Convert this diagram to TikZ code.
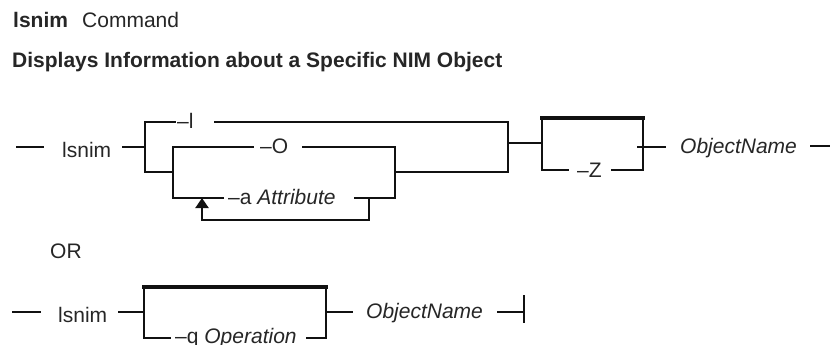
\documentclass[tikz,border=0pt]{standalone}
\usepackage{fontspec}
\setmainfont{Liberation Sans}
\usetikzlibrary{arrows.meta}
\definecolor{ink}{HTML}{111111}
\definecolor{txt}{HTML}{262626}
\begin{document}
\begin{tikzpicture}[x=1pt,y=-1pt,
  rail/.style={draw=ink,line width=2pt,line cap=rect,line join=miter},
  thickrail/.style={draw=ink,line width=4pt,line cap=rect},
  lbl/.style={inner sep=0pt,anchor=base west,text=txt,font=\fontsize{21}{25}\selectfont},
  ttl/.style={inner sep=0pt,anchor=base west,text=txt,font=\fontsize{21}{25}\selectfont\bfseries}]
\useasboundingbox[fill=white] (0,0) rectangle (830,345);

% titles
\node[ttl] (t1) at (13,28) {lsnim};
\node[lbl] (t1b) at (82,28) {Command};
\node[ttl] (t2) at (12,67) {Displays Information about a Specific NIM Object};

% ---------- row 1 ----------
\coordinate (a0) at (17,147);  \coordinate (a1) at (43,147);
\node[lbl] (ls1) at (62,157) {lsnim};
\coordinate (a2) at (123,147); \coordinate (J1) at (145,147);
\coordinate (J1t) at (145,122); \coordinate (J1b) at (145,172);
\node[lbl] (optl) at (177,128) {–l};
\coordinate (lA) at (175,122); \coordinate (lB) at (215,122);
\coordinate (R1t) at (508,122); \coordinate (R1b) at (508,172);
\coordinate (B1) at (173,172); \coordinate (B1t) at (173,147); \coordinate (B1b) at (173,198);
\node[lbl] (optO) at (260,153) {–O};
\coordinate (oA) at (253,147); \coordinate (oB) at (303,147);
\coordinate (B2t) at (395,147); \coordinate (B2m) at (395,172); \coordinate (B2b) at (395,198);
\node[lbl] (opta) at (228,204) {–a \textit{Attribute}};
\coordinate (aA) at (223,198); \coordinate (aB) at (355,198);
\coordinate (Lp1) at (369,198); \coordinate (Lp2) at (369,220);
\coordinate (Lp3) at (202,220); \coordinate (Lp4) at (202,198);
\coordinate (R1m) at (508,143); \coordinate (Zl) at (542,143);
\coordinate (Ztl) at (542,118); \coordinate (Ztr) at (643,118);
\coordinate (Zbl) at (542,170); \coordinate (Zbr) at (643,170);
\node[lbl] (optZ) at (577,177) {–Z};
\coordinate (zA) at (568,170); \coordinate (zB) at (612,170);
\coordinate (Zo) at (638,147); \coordinate (Zo2) at (665,147);
\node[lbl] (obj1) at (680,153) {\textit{ObjectName}};
\coordinate (e1) at (810,146); \coordinate (e2) at (830,146);

\draw[rail] (a0) -- (a1);
\draw[rail] (a2) -- (J1);
\draw[rail] (lA) -- (J1t) -- (J1b) -- (B1);
\draw[rail] (lB) -- (R1t) -- (R1b) -- (B2m);
\draw[rail] (oA) -- (B1t) -- (B1b) -- (aA);
\draw[rail] (oB) -- (B2t) -- (B2b) -- (aB);
\draw[rail,line cap=butt] (Lp1) -- (Lp2) -- (Lp3) -- (Lp4);
\draw[draw=ink,line width=2pt,-{Triangle[width=13pt,length=10pt]}] (Lp3) -- (Lp4);
\draw[rail] (R1m) -- (Zl);
\draw[thickrail] (Ztl) -- (Ztr);
\draw[rail] (zA) -- (Zbl) -- (Ztl);
\draw[rail] (zB) -- (Zbr) -- (Ztr);
\draw[rail] (Zo) -- (Zo2);
\draw[rail,line cap=butt] (e1) -- (e2);

% ---------- OR ----------
\node[lbl] (or) at (50,258) {OR};

% ---------- row 2 ----------
\coordinate (b0) at (13,312); \coordinate (b1) at (40,312);
\node[lbl] (ls2) at (58,322) {lsnim};
\coordinate (b2) at (119,312); \coordinate (Ql) at (144,312);
\coordinate (Qtl) at (144,287); \coordinate (Qtr) at (326,287);
\coordinate (Qbl) at (144,338); \coordinate (Qbr) at (326,338);
\node[lbl] (optq) at (175,343) {–q \textit{Operation}};
\coordinate (qA) at (170,338); \coordinate (qB) at (307,338);
\coordinate (Qr) at (326,312); \coordinate (Qr2) at (352,312);
\node[lbl] (obj2) at (366,318) {\textit{ObjectName}};
\coordinate (f1) at (498,312); \coordinate (f2) at (524,312);
\coordinate (fb1) at (524,295); \coordinate (fb2) at (524,323);

\draw[rail] (b0) -- (b1);
\draw[rail] (b2) -- (Ql);
\draw[thickrail] (Qtl) -- (Qtr);
\draw[rail] (qA) -- (Qbl) -- (Qtl);
\draw[rail] (qB) -- (Qbr) -- (Qtr);
\draw[rail] (Qr) -- (Qr2);
\draw[rail] (f1) -- (f2);
\draw[rail,line cap=butt] (fb1) -- (fb2);
\end{tikzpicture}
\end{document}
